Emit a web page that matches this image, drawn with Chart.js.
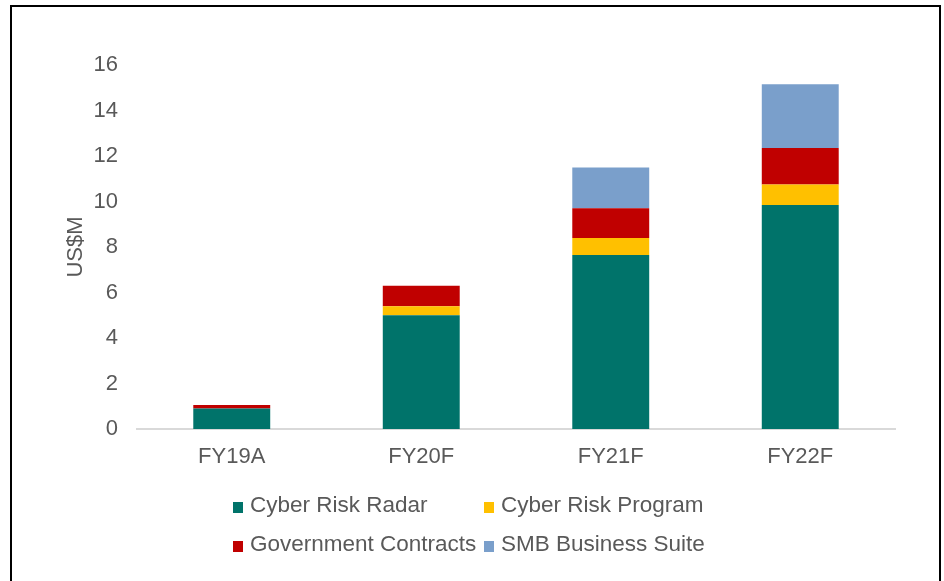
<!DOCTYPE html>
<html>
<head>
<meta charset="utf-8">
<script src="https://cdn.jsdelivr.net/npm/chart.js@4/dist/chart.umd.min.js"></script>
<style>
  body { margin: 0; background: #fff; }
  #frame { position: absolute; left: 10px; top: 5px; width: 927px; height: 600px; border: 2px solid #000; }
  #wrap { position: absolute; left: 0; top: 0; width: 944px; height: 581px; }
  .lg { position: absolute; font: 22.5px "Liberation Sans", Arial, sans-serif; color: #595959; white-space: nowrap; line-height: 24px; }
  .lg i { display: inline-block; width: 10px; height: 11px; margin-right: 7px; vertical-align: -1px; }
</style>
</head>
<body>
<div id="frame"></div>
<div id="wrap"><canvas id="chart" width="944" height="581"></canvas></div>
<div id="legend"></div>
<script>
// values (US$M)
const categories = ['FY19A', 'FY20F', 'FY21F', 'FY22F'];
const cyberRiskRadar = [0.9, 5.0, 7.65, 9.85];
const cyberRiskProgram = [0, 0.4, 0.75, 0.9];
const governmentContracts = [0.15, 0.9, 1.3, 1.6];
const smbBusinessSuite = [0, 0, 1.8, 2.8];
const yTicks = [0, 2, 4, 6, 8, 10, 12, 14, 16];

const font = { family: '"Liberation Sans", Arial, sans-serif', size: 22 };
const grey = '#595959';

const chart = new Chart(document.getElementById('chart'), {
    type: 'bar',
    data: {
        labels: categories,
        datasets: [
            { label: 'Cyber Risk Radar', data: cyberRiskRadar, backgroundColor: '#00736A' },
            { label: 'Cyber Risk Program', data: cyberRiskProgram, backgroundColor: '#FFC000' },
            { label: 'Government Contracts', data: governmentContracts, backgroundColor: '#C00000' },
            { label: 'SMB Business Suite', data: smbBusinessSuite, backgroundColor: '#7A9FCB' }
        ]
    },
    options: {
        responsive: false,
        animation: false,
        datasets: { bar: { categoryPercentage: 1, barPercentage: 0.406 } },
        layout: { padding: { left: 63, top: 65, right: 49, bottom: 102 } },
        plugins: { legend: { display: false }, tooltip: { enabled: false } },
        scales: {
            x: {
                stacked: true,
                grid: { display: false, drawTicks: false },
                border: { display: true, color: '#d9d9d9', width: 2 },
                ticks: { color: grey, font: font, padding: 15 },
                afterFit: (s) => { s.height = 50; }
            },
            y: {
                stacked: true,
                min: 0,
                max: 16,
                grid: { display: false, drawTicks: false },
                border: { display: false },
                afterBuildTicks: (s) => { s.ticks = yTicks.map(v => ({ value: v })); },
                ticks: { color: grey, font: font, padding: 19 },
                title: { display: true, text: 'US$M', color: grey, font: font, padding: 0 },
                afterFit: (s) => { s.width = 74; }
            }
        }
    }
});

// legend laid out like the original: two columns, two rows
const legendPos = [[233, 493], [484, 493], [233, 532], [484, 532]];
let html = '';
chart.data.datasets.forEach((ds, i) => {
    const p = legendPos[i];
    html += `<div class="lg" style="left:${p[0]}px;top:${p[1]}px"><i style="background:${ds.backgroundColor}"></i>${ds.label}</div>`;
});
document.getElementById('legend').innerHTML = html;
</script>
</body>
</html>
